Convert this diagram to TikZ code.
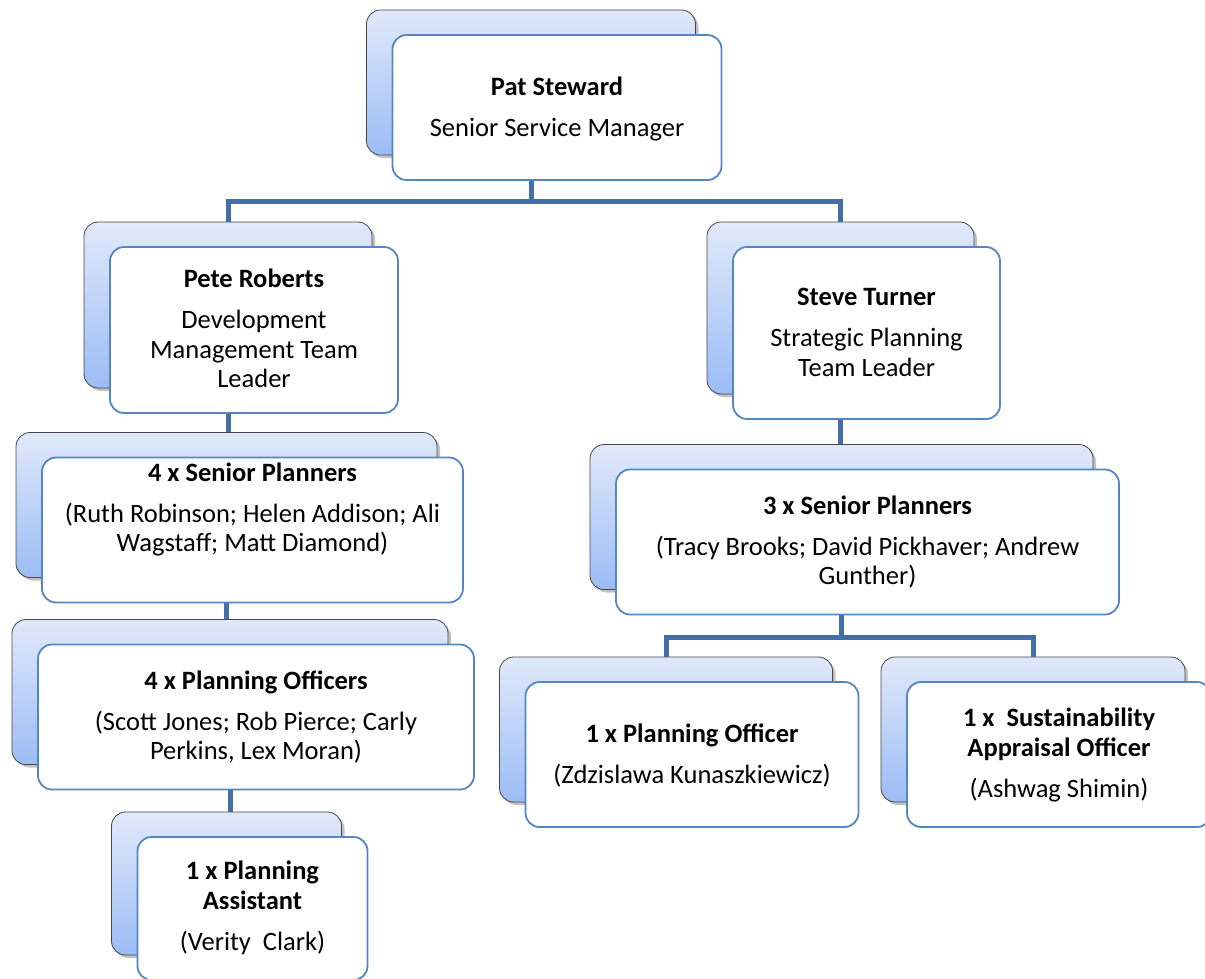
\documentclass[tikz,border=0pt]{standalone}
\usepackage{fontspec}
\setmainfont{Carlito}
\usetikzlibrary{shadows}

\definecolor{backtop}{RGB}{224,233,250}
\definecolor{backbot}{RGB}{155,188,245}
\definecolor{backedge}{RGB}{70,70,70}
\definecolor{frontedge}{RGB}{84,134,196}
\definecolor{linkblue}{RGB}{68,110,168}

\begin{document}
\begin{tikzpicture}[
  x=1pt, y=-1pt,
  back box/.style={draw=backedge, line width=0.8pt, rounded corners=14pt,
    top color=backtop, bottom color=backbot, inner sep=0pt,
    drop shadow={shadow xshift=3pt, shadow yshift=-3pt, opacity=.35, fill=black!70}},
  front box/.style={draw=frontedge, line width=1.8pt, rounded corners=14pt,
    fill=white, inner sep=0pt},
  % text nodes are anchored on the baseline of their last line
  box text/.style={anchor=base, align=center, inner sep=0pt,
    font=\fontsize{26.5}{29.5}\selectfont},
  link/.style={draw=linkblue, line width=5pt, line join=miter}
]
  \useasboundingbox (0,0) rectangle (1205,978);

  % Each post is a shaded card with a white card laid over it.
  \node[back box, minimum width=329, minimum height=145] (pat-b) at (531,82.5) {};
  \node[front box, minimum width=329, minimum height=145] (pat) at ([shift={(26,25)}]pat-b.center) {};
  \node[box text] (pat-t) at (557,136) {\textbf{Pat Steward}\\[11.5pt]Senior Service Manager};

  \node[back box, minimum width=288, minimum height=166] (pete-b) at (228,305) {};
  \node[front box, minimum width=288, minimum height=166] (pete) at ([shift={(26,25)}]pete-b.center) {};
  \node[box text] (pete-t) at (254,387.5) {\textbf{Pete Roberts}\\[11.5pt]Development\\Management Team\\Leader};

  \node[back box, minimum width=267, minimum height=172] (steve-b) at (840.5,308) {};
  \node[front box, minimum width=267, minimum height=172] (steve) at ([shift={(26,25)}]steve-b.center) {};
  \node[box text] (steve-t) at (866.5,376) {\textbf{Steve Turner}\\[11.5pt]Strategic Planning\\Team Leader};

  % Development management side
  \node[back box, minimum width=421, minimum height=145] (dsp-b) at (226.5,505) {};
  \node[front box, minimum width=421, minimum height=145] (dsp) at ([shift={(26,25)}]dsp-b.center) {};
  \node[box text] (dsp-t) at (252.5,551.5) {\textbf{4 x Senior Planners}\\[11.5pt](Ruth Robinson; Helen Addison; Ali\\Wagstaff; Matt Diamond)};

  \node[back box, minimum width=436, minimum height=145] (dpo-b) at (230,692) {};
  \node[front box, minimum width=436, minimum height=145] (dpo) at ([shift={(26,25)}]dpo-b.center) {};
  \node[box text] (dpo-t) at (256,759.5) {\textbf{4 x Planning Officers}\\[11.5pt](Scott Jones; Rob Pierce; Carly\\Perkins, Lex Moran)};

  \node[back box, minimum width=230, minimum height=143] (dpa-b) at (226.5,883.5) {};
  \node[front box, minimum width=230, minimum height=143] (dpa) at ([shift={(26,25)}]dpa-b.center) {};
  \node[box text] (dpa-t) at (252.5,950) {\textbf{1 x Planning}\\\textbf{Assistant}\\[11.5pt](Verity\ \ Clark)};

  % Strategic planning side
  \node[back box, minimum width=503, minimum height=145] (ssp-b) at (841.5,517) {};
  \node[front box, minimum width=503, minimum height=145] (ssp) at ([shift={(26,25)}]ssp-b.center) {};
  \node[box text] (ssp-t) at (867.5,584.5) {\textbf{3 x Senior Planners}\\[11.5pt](Tracy Brooks; David Pickhaver; Andrew\\Gunther)};

  \node[back box, minimum width=333, minimum height=145] (spo-b) at (666,729.5) {};
  \node[front box, minimum width=333, minimum height=145] (spo) at ([shift={(26,25)}]spo-b.center) {};
  \node[box text] (spo-t) at (692,783) {\textbf{1 x Planning Officer}\\[11.5pt](Zdzislawa Kunaszkiewicz)};

  \node[back box, minimum width=304, minimum height=145] (sao-b) at (1033,729.5) {};
  \node[front box, minimum width=304, minimum height=145] (sao) at ([shift={(26,25)}]sao-b.center) {};
  \node[box text] (sao-t) at (1059,797) {\textbf{1 x\ \ Sustainability}\\\textbf{Appraisal Officer}\\[11.5pt](Ashwag Shimin)};

  % Reporting lines
  \draw[link] (pat-b |- pat.south) -- ++(0,21) coordinate (pat-bus);
  \draw[link] (pete-b.north) |- (pat-bus) -| (steve-b.north);
  \draw[link] (pete-b |- pete.south) -- (pete-b |- dsp-b.north);
  \draw[link] (dsp-b |- dsp.south) -- (dsp-b |- dpo-b.north);
  \draw[link] (dpo-b |- dpo.south) -- (dpo-b |- dpa-b.north);
  \draw[link] (steve-b |- steve.south) -- (steve-b |- ssp-b.north);
  \draw[link] (ssp-b |- ssp.south) -- ++(0,22) coordinate (ssp-bus);
  \draw[link] (spo-b.north) |- (ssp-bus) -| (sao-b.north);
\end{tikzpicture}
\end{document}
